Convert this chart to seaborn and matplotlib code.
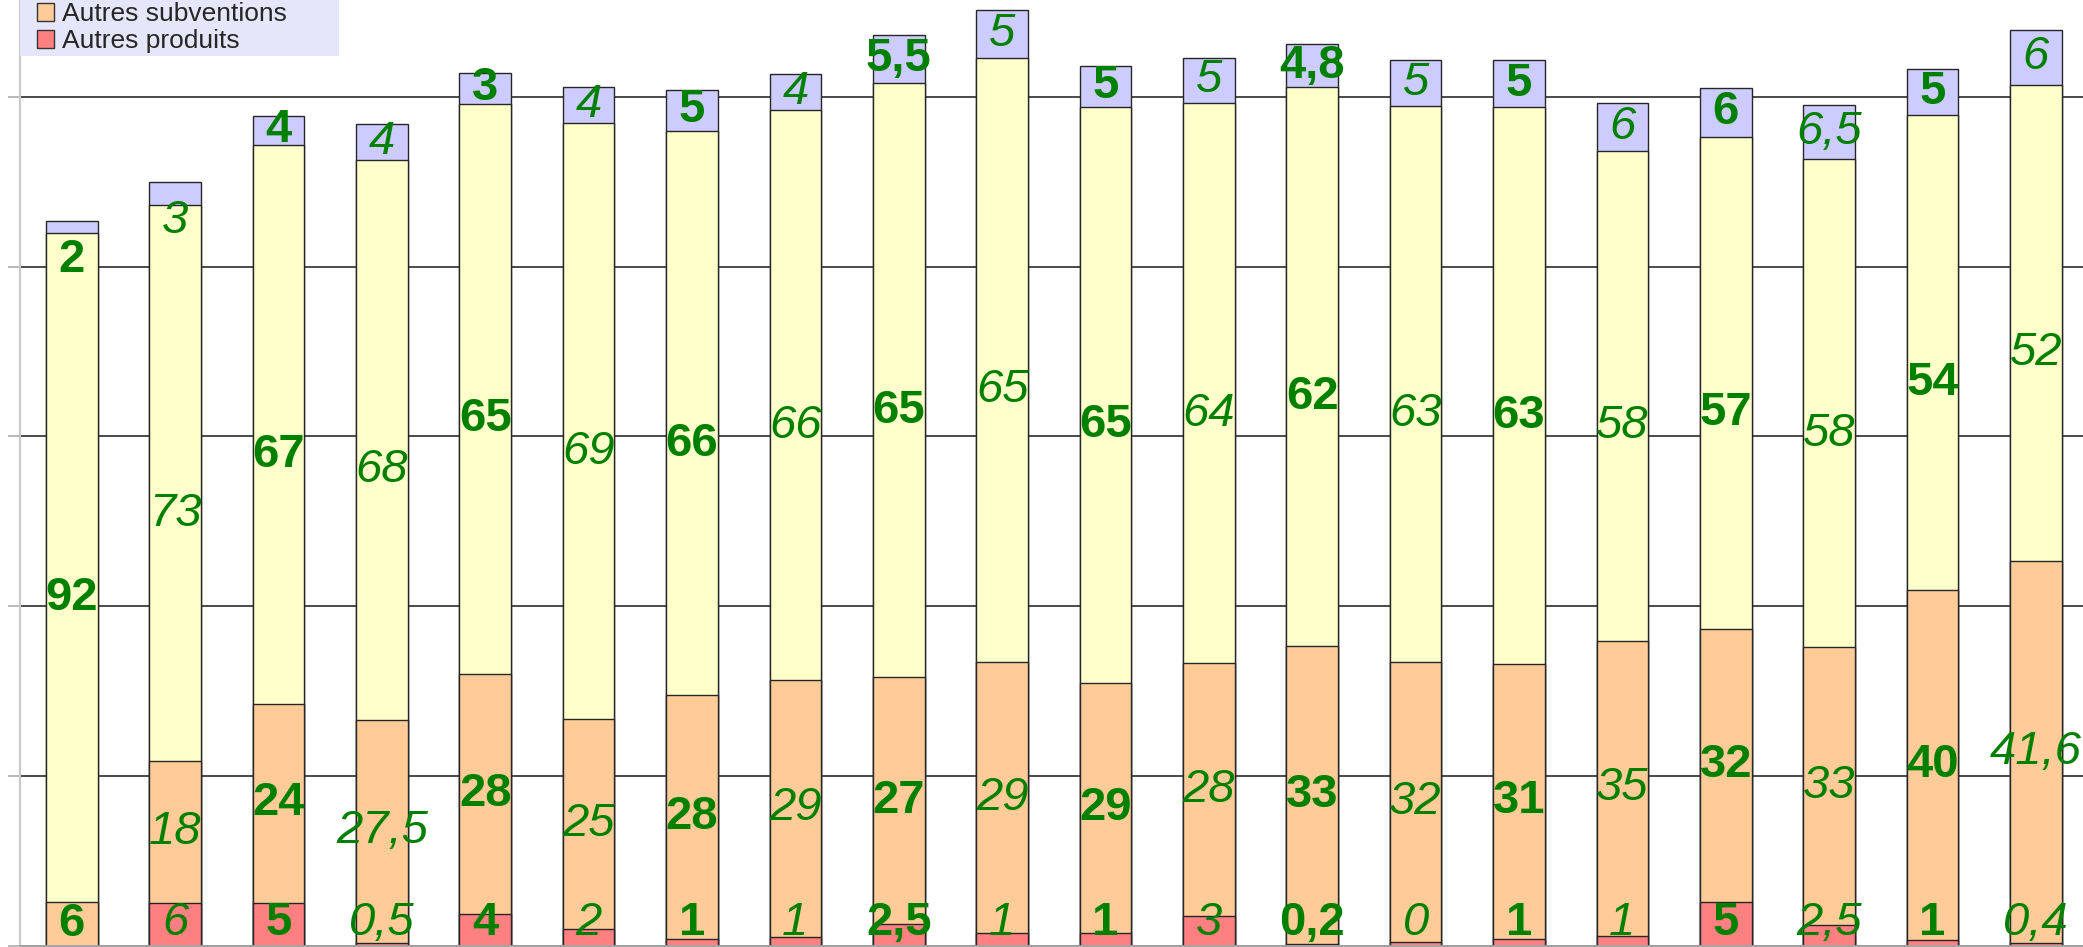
import numpy as np
import matplotlib.pyplot as plt
import seaborn as sns
from matplotlib.patches import Patch, Rectangle

sns.set_style("white")
plt.rcParams['font.family'] = ['Liberation Sans', 'DejaVu Sans']

# 20 columns (x labels are cropped out of the original screenshot)
categories = [str(i) for i in range(1, 21)]

# segment heights (one gridline = 100)
autres_produits = [0, 25.2, 24.9, 1.7, 18.4, 9.9, 3.8, 5.2, 12.7, 7.2,
                   7.2, 17.4, 0.9, 1.9, 3.7, 5.6, 25.8, 12.1, 3.2, 1.7]
autres_subventions = [25.5, 83.3, 117.6, 131.1, 141.8, 123.7, 143.6, 151.1, 145.4, 159.7,
                      147.7, 148.9, 175.6, 165.0, 162.4, 174.0, 160.9, 163.8, 206.1, 224.9]
serie_jaune = [394.2, 327.6, 329.2, 330.2, 335.7, 350.9, 332.5, 335.9, 350.0, 356.3,
               339.1, 330.0, 329.2, 328.0, 327.9, 288.7, 289.9, 287.4, 280.1, 280.5]
serie_bleue = [7.4, 13.6, 17.1, 21.0, 18.1, 21.2, 24.3, 21.2, 28.6, 27.9,
               24.3, 26.9, 25.5, 27.1, 27.7, 28.3, 28.5, 31.8, 27.3, 32.4]

# percentage labels written on the bars
lbl_produits = ["", "6", "5", "0,5", "4", "2", "1", "1", "2,5", "1",
                "1", "3", "0,2", "0", "1", "1", "5", "2,5", "1", "0,4"]
lbl_subventions = ["6", "18", "24", "27,5", "28", "25", "28", "29", "27", "29",
                   "29", "28", "33", "32", "31", "35", "32", "33", "40", "41,6"]
lbl_jaune = ["92", "73", "67", "68", "65", "69", "66", "66", "65", "65",
             "65", "64", "62", "63", "63", "58", "57", "58", "54", "52"]
lbl_bleue = ["2", "3", "4", "4", "3", "4", "5", "4", "5,5", "5",
             "5", "5", "4,8", "5", "5", "6", "6", "6,5", "5", "6"]

c_red, c_orange, c_yellow, c_blue = "#ff8080", "#ffcc99", "#ffffcc", "#ccccff"

red = np.array(autres_produits)
orange = red + np.array(autres_subventions)
yellow = orange + np.array(serie_jaune)
total = yellow + np.array(serie_bleue)

W, H = 2083, 947
fig = plt.figure(figsize=(W / 100, H / 100), dpi=100)
# the screenshot is cropped: plot area runs past the top and right edges
ax = fig.add_axes([20 / W, 1.5 / H, 2067.6 / W, 1045.5 / H])

for layer, col in [(total, c_blue), (yellow, c_yellow), (orange, c_orange), (red, c_red)]:
    sns.barplot(x=categories, y=layer, color=col, saturation=1, width=0.5,
                edgecolor="#262626", linewidth=1, errorbar=None, ax=ax)

ax.set_ylim(0, 616)
ax.set_xlim(-0.5, 19.5)
ax.set_yticks(np.arange(0, 700, 100))
ax.yaxis.grid(True, color="#3c3c3c", linewidth=1.3)
ax.set_axisbelow(True)
ax.set_xlabel("")
ax.set_ylabel("")
ax.tick_params(axis="y", left=True, length=9, width=1.3, color="#b3b3b3", labelleft=False)
ax.tick_params(axis="x", bottom=False, labelbottom=False)
for s in ["top", "right"]:
    ax.spines[s].set_visible(False)
ax.spines["left"].set_color("#c8c8c8")
ax.spines["left"].set_linewidth(1.5)
ax.spines["bottom"].set_color("#a6a6a6")
ax.spines["bottom"].set_linewidth(2)

# labels
for i in range(len(categories)):
    bold = (i % 2 == 0)
    kw = dict(ha="center", va="center", color="#008000", fontsize=34,
              fontweight="bold" if bold else "normal",
              fontstyle="normal" if bold else "italic")
    if lbl_produits[i]:
        ax.text(i, max(red[i] / 2, 13), lbl_produits[i], **kw)
    ax.text(i, (red[i] + orange[i]) / 2, lbl_subventions[i], **kw)
    # yellow labels sit a little below the middle of their segment
    ax.text(i, (orange[i] + yellow[i]) / 2 - 18, lbl_jaune[i], **kw)
    if serie_bleue[i] < 15:
        yb = total[i] - 23
    else:
        yb = (yellow[i] + total[i]) / 2
    ax.text(i, yb, lbl_bleue[i], **kw)

# legend (only its lower part is visible in the screenshot)
fig.patches.append(Rectangle((19.5 / W, (H - 55.7) / H), 319.5 / W, 80 / H,
                             transform=fig.transFigure, facecolor="#e6e6fa",
                             edgecolor="none", zorder=5))
handles = [Patch(facecolor=c_orange, edgecolor="#333333", label="Autres subventions"),
           Patch(facecolor=c_red, edgecolor="#333333", label="Autres produits")]
fig.legend(handles=handles, loc="lower left", bbox_to_anchor=(37 / W, (H - 53) / H),
           bbox_transform=fig.transFigure, frameon=False, fontsize=19,
           borderpad=0, borderaxespad=0, handlelength=0.65, handleheight=0.65,
           handletextpad=0.3, labelspacing=0.1).set_zorder(6)

fig.savefig("out.png", dpi=100)
